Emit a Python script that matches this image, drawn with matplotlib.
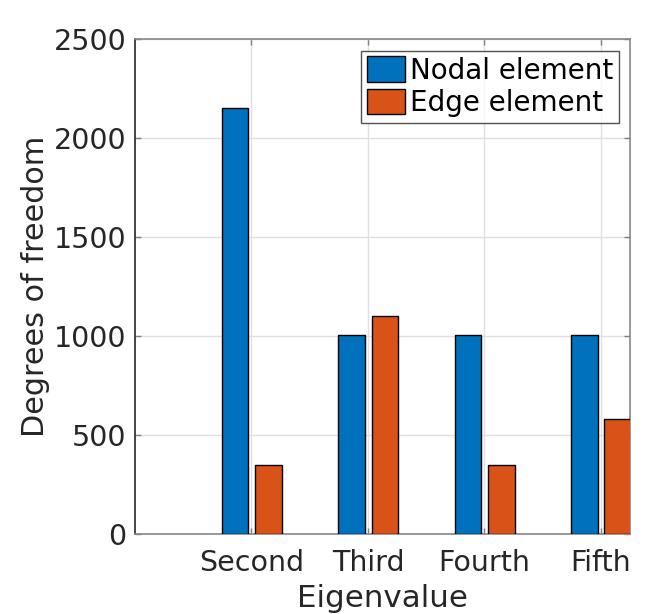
import matplotlib
matplotlib.use("Agg")
import matplotlib.pyplot as plt
import numpy as np

# data
categories = ["Second", "Third", "Fourth", "Fifth"]
nodal = [2152, 1005, 1005, 1005]
edge = [347, 1100, 347, 581]
yticks = [0, 500, 1000, 1500, 2000, 2500]

plt.rcParams['font.family'] = ['DejaVu Sans']

fig = plt.figure(figsize=(6.64, 6.14), dpi=100)
ax = fig.add_axes([0.2033, 0.1303, 0.7455, 0.8054])

x = np.arange(1, len(categories) + 1)
w = 0.228
ax.bar(x - 0.14, nodal, w, color='#0072BD', edgecolor='black', linewidth=1,
       label='Nodal element', zorder=3)
ax.bar(x + 0.145, edge, w, color='#D95319', edgecolor='black', linewidth=1,
       label='Edge element', zorder=3)

ax.set_xlim(0, 4.25)
ax.set_ylim(0, 2500)
ax.set_xticks(x)
ax.set_xticklabels(categories)
ax.set_yticks(yticks)

ax.grid(True, color='#e0e0e0', linewidth=1, zorder=0)
ax.set_axisbelow(True)

txt = '#262626'
ax.tick_params(axis='both', direction='in', length=4, width=1, color='#808080',
               labelsize=20.5, labelcolor=txt, top=True, right=True)
ax.tick_params(axis='y', pad=6)
ax.tick_params(axis='x', pad=11)
for name, spine in ax.spines.items():
    spine.set_color('#888888')
    spine.set_linewidth(1.2)
ax.spines['left'].set_color('#262626')

ax.set_xlabel('Eigenvalue', fontsize=22.3, color=txt, labelpad=5)
ax.set_ylabel('Degrees of freedom', fontsize=21.8, color=txt, labelpad=3)

leg = ax.legend(loc='upper right', fontsize=20, frameon=True, fancybox=False,
                edgecolor='#262626', borderpad=0.2, labelspacing=0.15,
                handlelength=1.35, handleheight=1.05, handletextpad=0.2,
                borderaxespad=0.4)
leg.get_frame().set_linewidth(1)

fig.savefig('out.png', dpi=100)
